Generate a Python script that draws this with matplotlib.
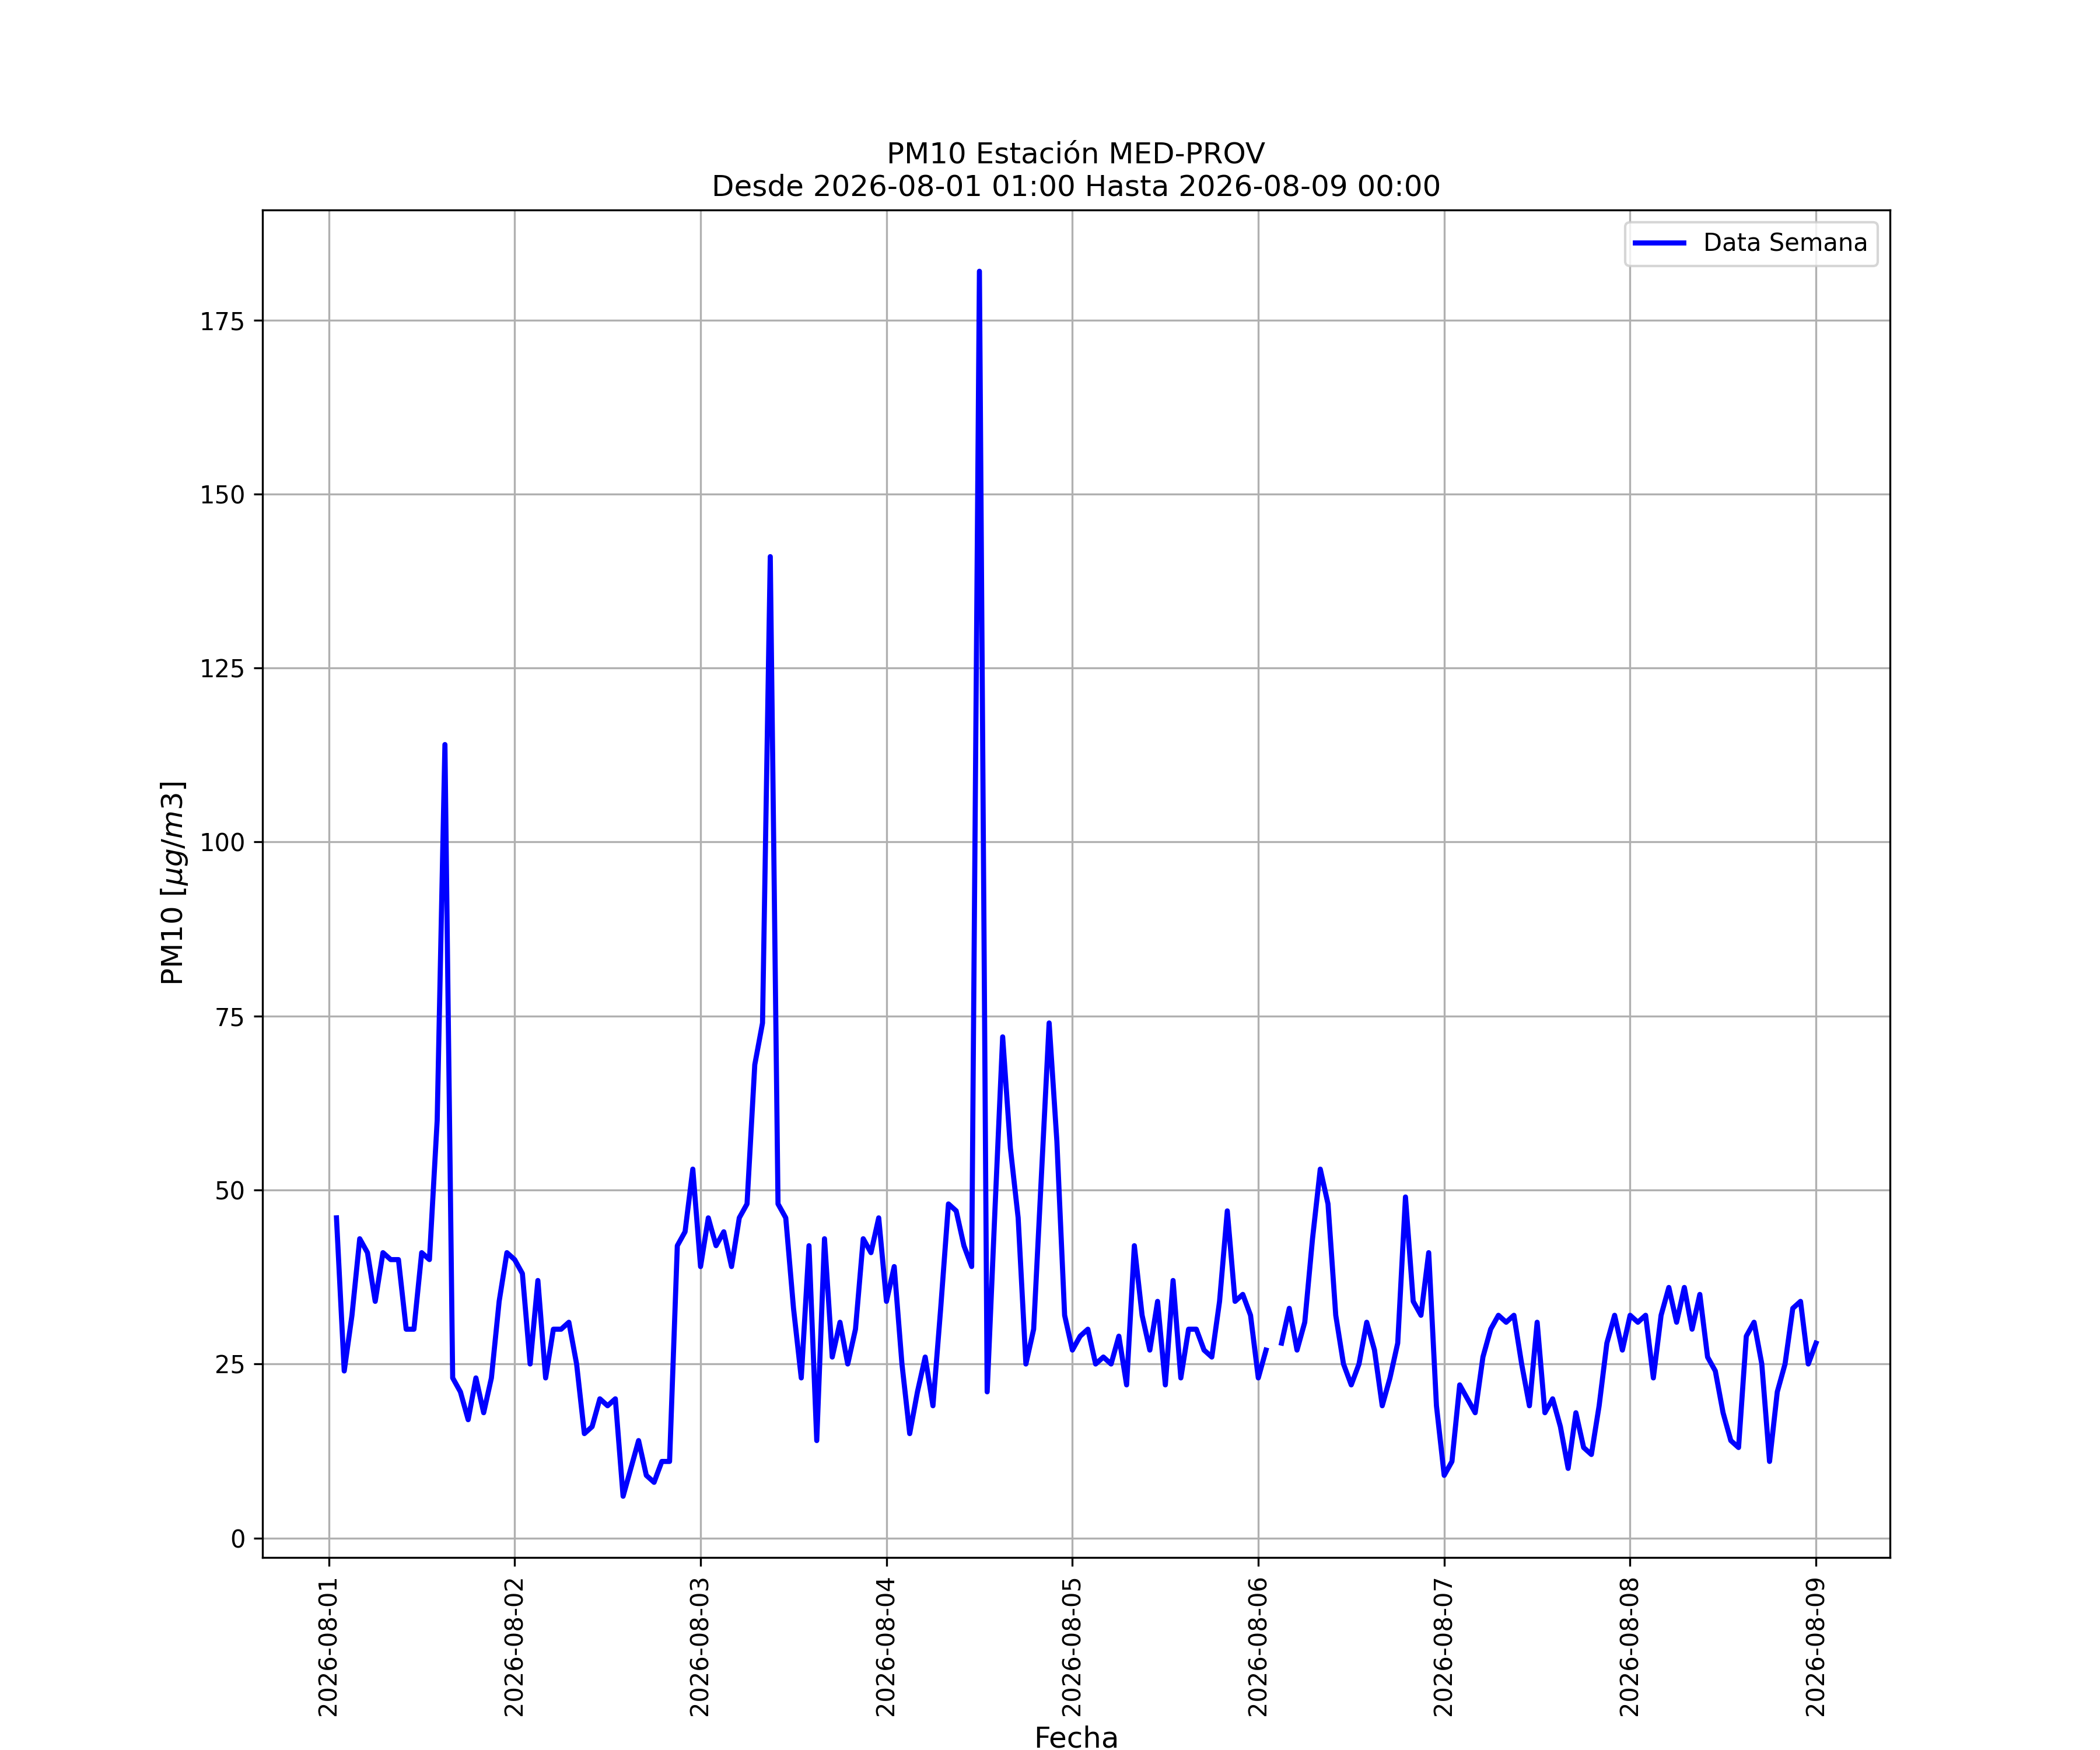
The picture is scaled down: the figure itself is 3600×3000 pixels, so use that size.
import numpy as np
import pandas as pd
import matplotlib
matplotlib.use('Agg')
import matplotlib.pyplot as plt
import matplotlib.dates as mdates

# Hourly PM10 values, one list per day (01:00 -> 00:00 of the next day)
day1 = [46, 24, 32, 43, 41, 34, 41, 40, 40, 30, 30, 41,
        40, 60, 114, 23, 21, 17, 23, 18, 23, 34, 41, 40]
day2 = [38, 25, 37, 23, 30, 30, 31, 25, 15, 16, 20, 19,
        20, 6, 10, 14, 9, 8, 11, 11, 42, 44, 53, 39]
day3 = [46, 42, 44, 39, 46, 48, 68, 74, 141, 48, 46, 33,
        23, 42, 14, 43, 26, 31, 25, 30, 43, 41, 46, 34]
day4 = [39, 25, 15, 21, 26, 19, 33, 48, 47, 42, 39, 182,
        21, 47, 72, 56, 46, 25, 30, 52, 74, 57, 32, 27]
day5 = [29, 30, 25, 26, 25, 29, 22, 42, 32, 27, 34, 22,
        37, 23, 30, 30, 27, 26, 34, 47, 34, 35, 32, 23]
day6 = [27, np.nan, 28, 33, 27, 31, 43, 53, 48, 32, 25, 22,
        25, 31, 27, 19, 23, 28, 49, 34, 32, 41, 19, 9]
day7 = [11, 22, 20, 18, 26, 30, 32, 31, 32, 25, 19, 31,
        18, 20, 16, 10, 18, 13, 12, 19, 28, 32, 27, 32]
day8 = [31, 32, 23, 32, 36, 31, 36, 30, 35, 26, 24, 18,
        14, 13, 29, 31, 25, 11, 21, 25, 33, 34, 25, 28]

inicio = '2026-08-01 01:00'
fin = '2026-08-09 00:00'
estacion = 'MED-PROV'

valores = day1 + day2 + day3 + day4 + day5 + day6 + day7 + day8
fechas = pd.date_range(inicio, fin, freq='h')

fig = plt.figure(figsize=(12, 10), dpi=300)
ax = fig.add_subplot(111)

ax.plot(fechas, valores, color='blue', linewidth=2.1, label='Data Semana')

ax.set_title('PM10 Estación ' + estacion + '\nDesde ' + inicio + ' Hasta ' + fin,
             fontsize=12)
ax.set_xlabel('Fecha', fontsize=12)
ax.set_ylabel(r'PM10 [$\mu g/m3$]', fontsize=12)

ax.xaxis.set_major_locator(mdates.DayLocator())
ax.xaxis.set_major_formatter(mdates.DateFormatter('%Y-%m-%d'))
plt.setp(ax.get_xticklabels(), rotation=90)

ax.grid(True)
ax.legend(loc='upper right')

fig.savefig('out.png', dpi=300)
